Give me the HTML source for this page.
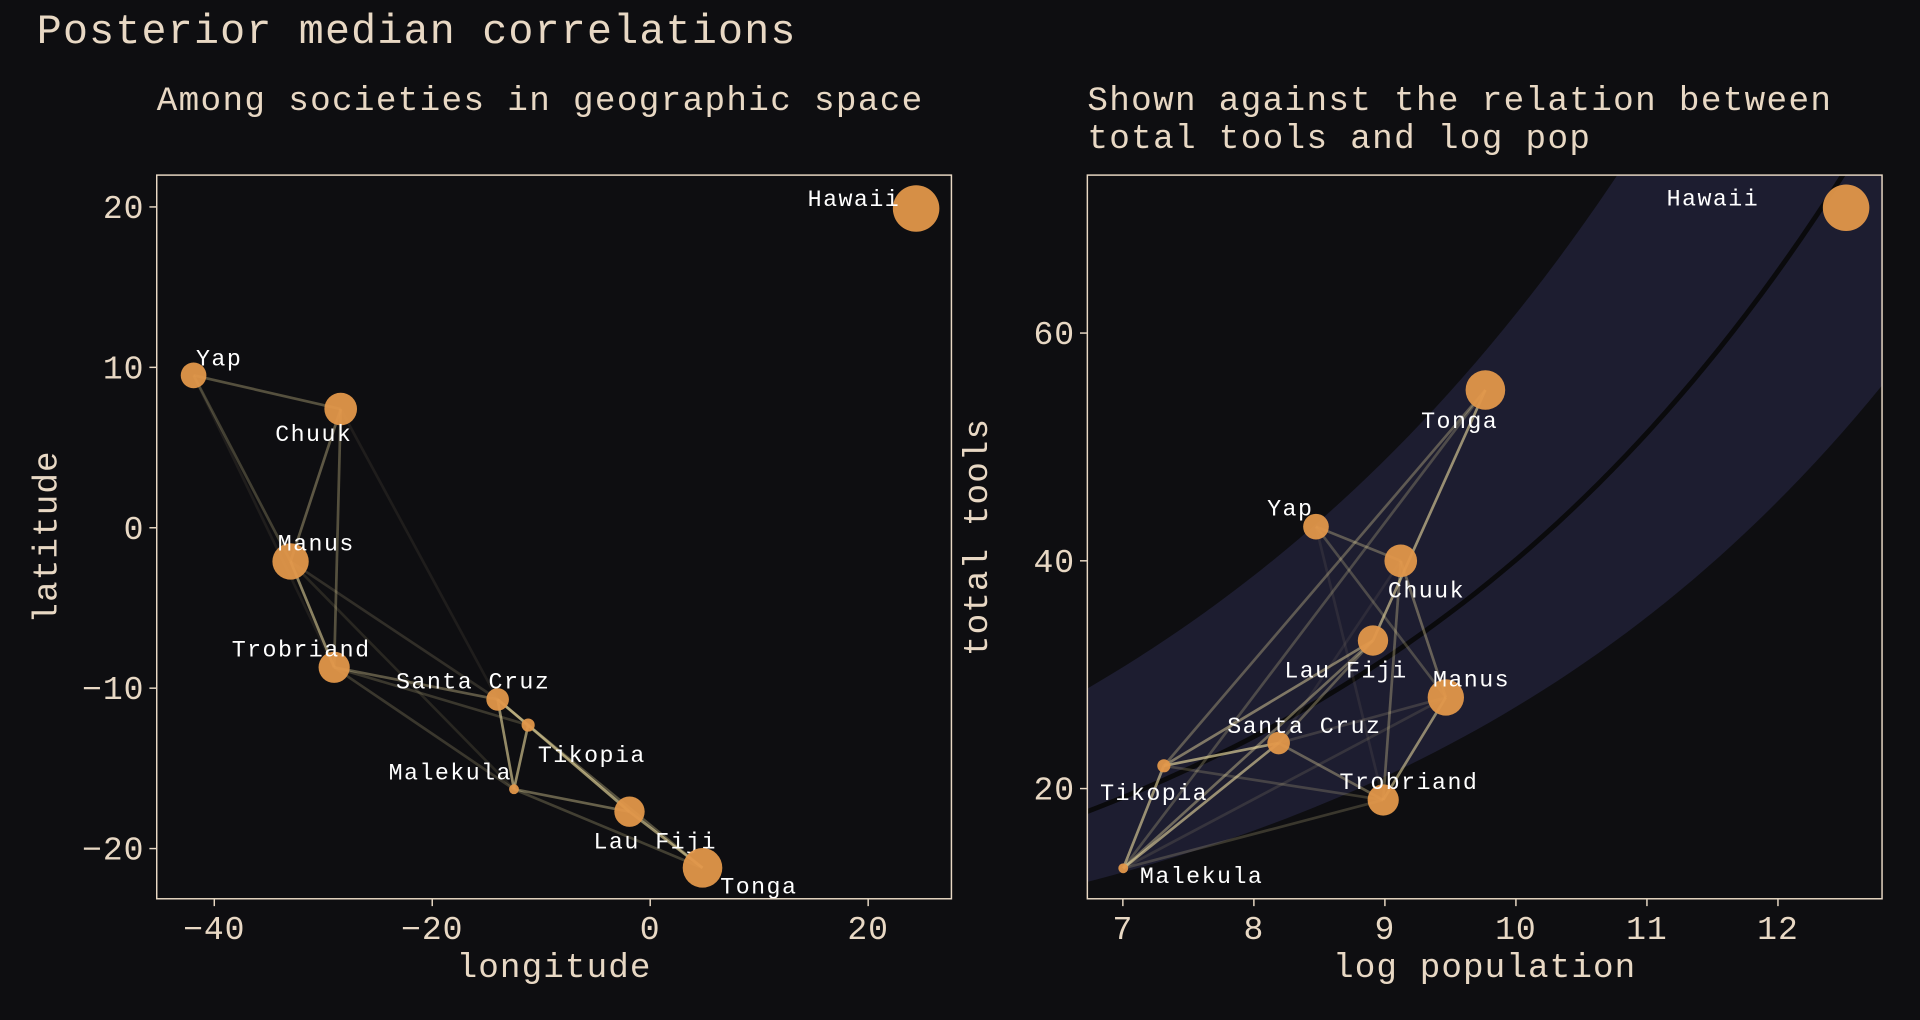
<!DOCTYPE html>
<html><head><meta charset="utf-8"><style>
html,body{margin:0;padding:0;background:#0e0e11;}
svg{display:block;}
text{font-family:"Liberation Mono",monospace;}
</style></head><body>
<svg id="fig" width="1920" height="1020" viewBox="0 0 1568 833" xmlns="http://www.w3.org/2000/svg">
<rect width="1568" height="833" fill="#0e0e11"/>
<text x="30" y="35" font-size="34" letter-spacing="1.0" fill="#e8d8c4">Posterior median correlations</text>
<text x="128" y="90" font-size="28" letter-spacing="1.1" fill="#e8d8c4">Among societies in geographic space</text>
<text x="888" y="90" font-size="28" letter-spacing="1.1" fill="#e8d8c4">Shown against the relation between</text>
<text x="888" y="121" font-size="28" letter-spacing="1.1" fill="#e8d8c4">total tools and log pop</text>
<g id="left"></g>
<g id="right"></g>
</svg>
<script>
const societies=["Malekula","Tikopia","Santa Cruz","Yap","Lau Fiji","Trobriand","Chuuk","Manus","Tonga","Hawaii"];
const lon2=[-12.5,-11.2,-14,-41.9,-1.9,-29,-28.4,-33,4.8,24.4];
const lat=[-16.3,-12.3,-10.7,9.5,-17.7,-8.7,7.4,-2.1,-21.2,19.9];
const logpop=[7.003,7.313,8.189,8.474,8.909,8.987,9.121,9.465,9.767,12.52];
const tools=[13,22,24,43,33,19,40,28,55,71];
const pairA=[3,3,6,6,7,5,5,5,7,2,2,1,1,0,4,0,1,2,6,3,7];
const pairB=[6,7,7,5,5,2,1,0,2,1,0,0,4,4,8,8,8,4,2,5,0];
const pairRho=[0.4,0.3,0.45,0.4,0.7,0.45,0.25,0.25,0.2,0.8,0.75,0.75,0.6,0.5,0.75,0.3,0.4,0.4,0.1,0.1,0.15];
const xTicksL=[-40,-20,0,20], yTicksL=[-20,-10,0,10,20];
const xTicksR=[7,8,9,10,11,12], yTicksR=[20,40,60];
const offL=[[-52,-12,"middle"],[52,26,"middle"],[-20,-13,"middle"],[2,-12,"start"],[21,26,"middle"],[-27,-13,"middle"],[-22,22,"middle"],[21,-13,"middle"],[46,17,"middle"],[-13,-6,"end"]];
const offR=[[64,8,"middle"],[-8,24,"middle"],[21,-12,"middle"],[-21,-13,"middle"],[-22,26,"middle"],[21,-13,"middle"],[21,26,"middle"],[21,-13,"middle"],[-21,27,"middle"],[-71,-6,"end"]];
const NS="http://www.w3.org/2000/svg";
function mk(p,tag,a,txt){const e=document.createElementNS(NS,tag);for(const k in a)e.setAttribute(k,a[k]);if(txt!==undefined)e.textContent=txt;p.appendChild(e);return e;}
const TXT="#e8d8c4";
function rad(lp){return Math.min(19,4+(lp-7)*4.4);}
function panel(g,box,sx,sy,xs,ys,xt,yt,xlab,ylab,pfx,offs,extra){
  mk(g,"rect",{x:box[0],y:box[1],width:box[2]-box[0],height:box[3]-box[1],fill:"#0e0e11"});
  if(extra)extra(g);
  for(let k=0;k<pairA.length;k++){
    const i=pairA[k],j=pairB[k];
    const l=mk(g,"line",{x1:sx(xs[i]),y1:sy(ys[i]),x2:sx(xs[j]),y2:sy(ys[j]),stroke:"#ecdca0","stroke-width":2.2,"stroke-opacity":pairRho[k]*0.8});
    
    
  }
  for(let i=0;i<societies.length;i++){
    const c=mk(g,"circle",{cx:sx(xs[i]),cy:sy(ys[i]),r:rad(logpop[i]),fill:"#e2974a","fill-opacity":0.95});
    
    
    const o=offs[i];
    const t=mk(g,"text",{x:sx(xs[i])+o[0],y:sy(ys[i])+o[1]+4,"font-size":19,"letter-spacing":1.2,fill:"#ffffff","text-anchor":o[2]},societies[i]);
    
    
  }
  mk(g,"rect",{x:box[0],y:box[1],width:box[2]-box[0],height:box[3]-box[1],fill:"none",stroke:"#e8d8c4","stroke-width":1.2});
  xt.forEach(v=>{const x=sx(v);
    mk(g,"line",{x1:x,y1:box[3],x2:x,y2:box[3]+6,stroke:TXT,"stroke-width":1.2});
    const t=mk(g,"text",{x:x,y:box[3]+33,"font-size":27,"letter-spacing":0.8,fill:TXT,"text-anchor":"middle"},String(v).replace('-','\u2212'));
    
    });
  yt.forEach(v=>{const y=sy(v);
    mk(g,"line",{x1:box[0]-6,y1:y,x2:box[0],y2:y,stroke:TXT,"stroke-width":1.2});
    const t=mk(g,"text",{x:box[0]-10,y:y+9,"font-size":27,"letter-spacing":0.8,fill:TXT,"text-anchor":"end"},String(v).replace('-','\u2212'));
    
    });
  const xl=mk(g,"text",{x:(box[0]+box[2])/2,y:798,"font-size":28,"letter-spacing":0.9,fill:TXT,"text-anchor":"middle"},xlab);
  
  
  const cx=box[0]-82,cy=(box[1]+box[3])/2;
  const yl=mk(g,"text",{x:cx,y:cy,"font-size":28,"letter-spacing":0.9,fill:TXT,"text-anchor":"middle",transform:`rotate(-90 ${cx} ${cy})`},ylab);
  
  
}
const sxL=v=>531+v*8.9, syL=v=>431-v*13.1;
panel(document.getElementById('left'),[128,143,777,734],sxL,syL,lon2,lat,xTicksL,yTicksL,"longitude","latitude","left",offL);
const sxR=v=>917+(v-7)*107, syR=v=>644-(v-20)*9.3;
const bandLoA=0.752,bandLoB=0.255,bandHiA=1.792,bandHiB=0.233,medA=1.241,medB=0.245;
panel(document.getElementById('right'),[888,143,1537,734],sxR,syR,logpop,tools,xTicksR,yTicksR,"log population","total tools","right",offR,function(g){
  const cp=mk(g,"clipPath",{id:"rclip"});mk(cp,"rect",{x:888,y:143,width:649,height:591});
  const gg=mk(g,"g",{"clip-path":"url(#rclip)"});
  let up=[],lo=[],md=[];
  for(let i=0;i<=60;i++){const lp=6.7+i*6.2/60;
    up.push(sxR(lp)+","+syR(Math.exp(bandHiA+bandHiB*lp)));
    lo.push(sxR(lp)+","+syR(Math.exp(bandLoA+bandLoB*lp)));
    md.push(sxR(lp)+","+syR(Math.exp(medA+medB*lp)));}
  const b=mk(gg,"polygon",{points:up.concat(lo.reverse()).join(" "),fill:"#1d1d30"});
  
  
  const m=mk(gg,"polyline",{points:md.join(" "),fill:"none",stroke:"#0a0a0c","stroke-width":4});
  
  
});
</script>
</body></html>
